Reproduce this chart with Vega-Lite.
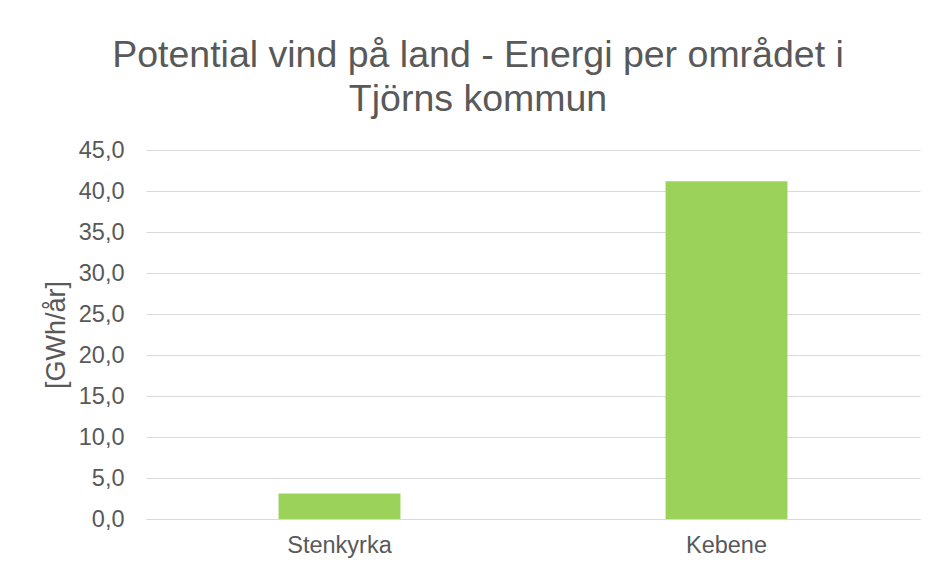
{
  "$schema": "https://vega.github.io/schema/vega-lite/v6.json",
  "width": 774,
  "height": 369,
  "autosize": {"type": "none"},
  "padding": {"left": 146, "top": 150, "right": 20, "bottom": 53},
  "background": "white",
  "config": {
    "view": {"stroke": null},
    "font": "Liberation Sans",
    "locale": {"number": {"decimal": ",", "thousands": " ", "grouping": [3], "currency": ["", " kr"]}}
  },
  "title": {
    "text": ["Potential vind på land - Energi per området i", "Tjörns kommun"],
    "fontSize": 37.5,
    "fontWeight": "normal",
    "color": "#595959",
    "lineHeight": 44,
    "anchor": "middle",
    "dx": -55,
    "offset": 20
  },
  "data": {
    "values": [
      {"omrade": "Stenkyrka", "energi": 3.1},
      {"omrade": "Kebene", "energi": 41.2}
    ]
  },
  "mark": {"type": "bar", "color": "#9BD35A"},
  "encoding": {
    "x": {
      "field": "omrade",
      "type": "nominal",
      "sort": null,
      "scale": {"paddingInner": 0.685, "paddingOuter": 0.3425},
      "axis": {
        "title": null,
        "labelAngle": 0,
        "labelFontSize": 23.5,
        "labelColor": "#595959",
        "labelPadding": 14,
        "ticks": false,
        "domainColor": "#d9d9d9",
        "domainWidth": 1,
        "grid": false
      }
    },
    "y": {
      "field": "energi",
      "type": "quantitative",
      "scale": {"domain": [0, 45], "nice": false},
      "axis": {
        "title": "[GWh/år]",
        "titleFontSize": 27,
        "titleFontWeight": "normal",
        "titleColor": "#595959",
        "titlePadding": 8,
        "values": [0, 5, 10, 15, 20, 25, 30, 35, 40, 45],
        "format": ".1f",
        "labelFontSize": 23.5,
        "labelColor": "#595959",
        "labelPadding": 22,
        "ticks": false,
        "domain": false,
        "gridColor": "#d9d9d9",
        "gridWidth": 1
      }
    }
  }
}
